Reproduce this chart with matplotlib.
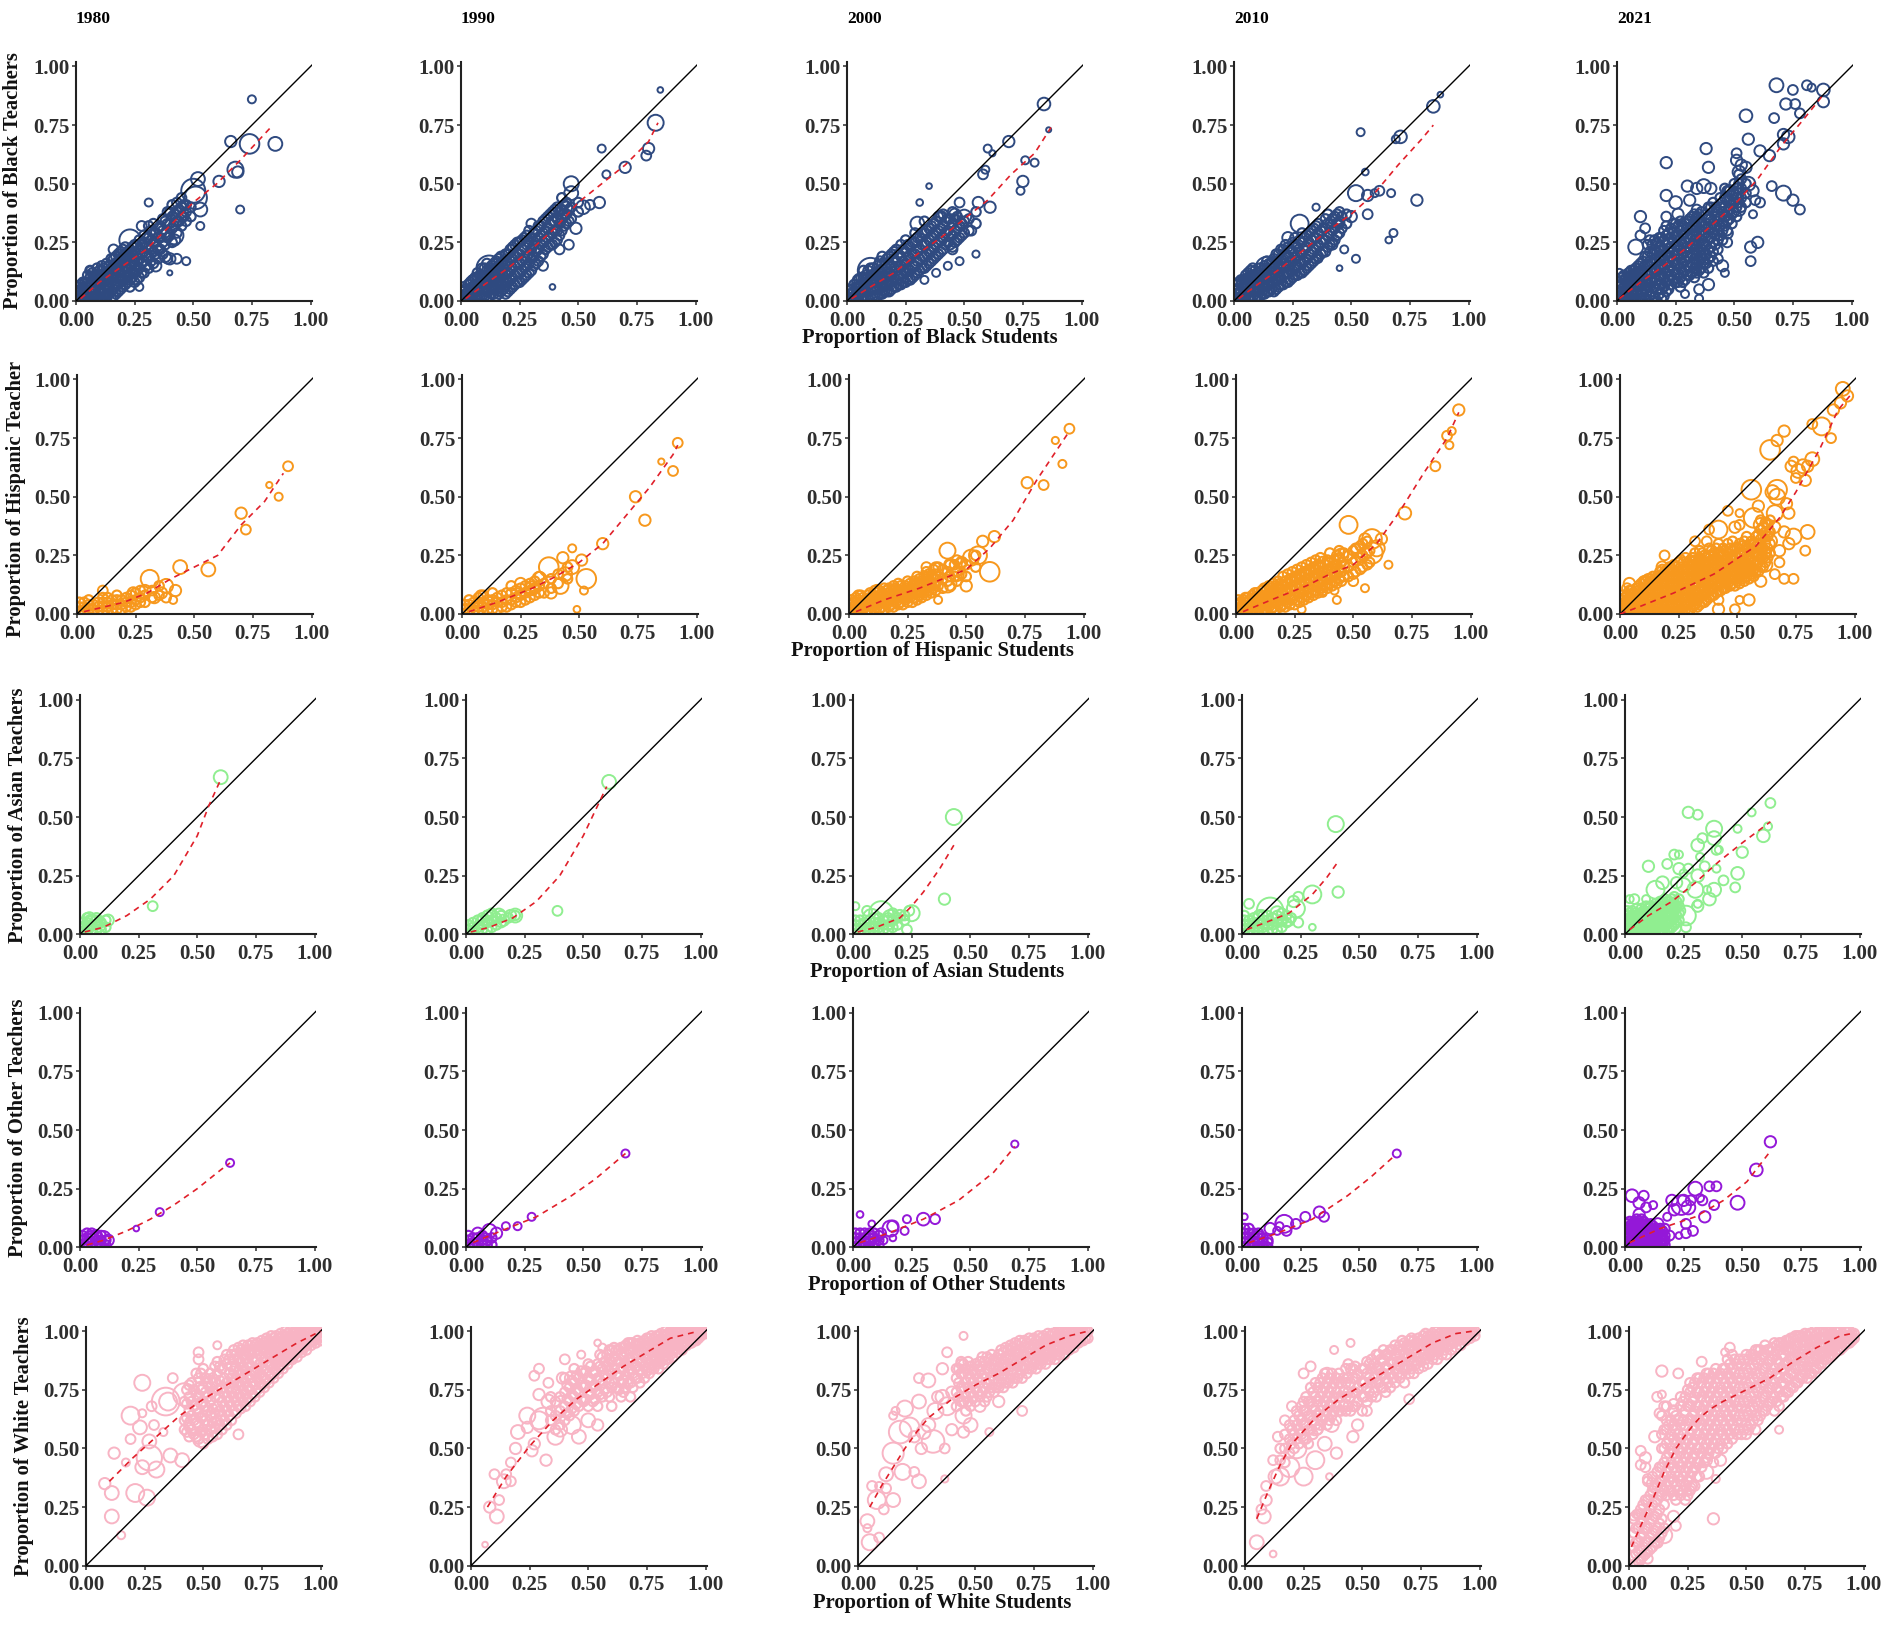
# -*- coding: utf-8 -*-
import numpy as np
from matplotlib import pyplot as plt

# all values, in percent. points are (x, y, enrolment weight),
# bands and fills are {x: [y, y, ...]} for the solid parts of each panel, fits are (x, y)
years = ['1980', '1990', '2000', '2010', '2021']
y_titles = ['Proportion of Black Teachers', 'Proportion of Hispanic Teacher', 'Proportion of Asian Teachers',
            'Proportion of Other Teachers', 'Proportion of White Teachers']
x_titles = ['Proportion of Black Students', 'Proportion of Hispanic Students', 'Proportion of Asian Students',
            'Proportion of Other Students', 'Proportion of White Students']
colors = ['#2f4a80', '#f7981d', '#90ee90', '#9418d8', '#f8b4c4']
ticks = [0, 0.25, 0.5, 0.75, 1.0]
tick_labels = ['0.00', '0.25', '0.50', '0.75', '1.00']

black_1980_pts = [(75,86,1),(66,68,2),(74,67,6),(85,67,3),(68,56,4),(69,55,2),(61,51,2),(70,39,1),(52,52,3),(50,47,9),(51,44,8),(31,42,1),(53,32,1),(53,39,3),(42,28,5),(42,26,2),(40,12,.4),(47,17,1),(43,18,1.5),(40,18,2),(34,15,2),(27,6,1),(23,26,7),(16,22,1.5),(28,32,1.5),(38,19,2),(6,13,1)]
black_1980_band = {1:[0,1,2,4,6],3:[0,2,4,6,8],5:[0,1,3,6,8,11],7:[0,2,5,9,12],9:[0,2,6,8,11,14],11:[0,1,4,7,10,13,15],13:[0,3,6,9,12,16],15:[1,4,8,11,14,18],17:[3,7,10,13,16,19],19:[5,9,12,15,18,21],21:[7,10,14,17,20,23],23:[6,9,12,16,19,22],25:[8,12,15,18,21,24],27:[10,14,18,22,26],29:[12,17,21,25,28],31:[14,19,23,27,32],33:[16,21,25,29,33],35:[18,22,27,31],37:[20,25,30,35],39:[18,27,33,38],41:[25,31,36,41],43:[29,34,38,42],45:[32,36,40,44],47:[34,38,41],49:[36,40]}
black_1980_fill = {2:[1,3,5,7],4:[1,3,5,8],6:[1,4,7,10,13],8:[2,5,8,11],10:[1,4,7,10,13],12:[2,5,8,11,14],14:[3,6,9,12,15],16:[2,5,9,12,15,18],18:[4,7,10,14,17,20],20:[6,9,13,16,19,22],22:[8,11,14,18,21],24:[10,13,17,20,23],26:[9,13,17,20,24],28:[12,16,20,24],30:[15,19,23,27],32:[17,22,26,30],34:[20,25,29],36:[22,27,32],38:[24,29,34],40:[28,33,38],42:[32,37],44:[34,39],46:[36,41]}
black_1980_fit = [(2,1),(10,8),(20,15),(30,22),(40,32),(50,42),(60,50),(70,60),(83,74)]

black_1990_pts = [(85,90,.5),(83,76,4),(80,65,2),(79,62,1.5),(70,57,2),(60,65,1),(62,54,1),(59,42,2),(52,40,3),(47,50,3.5),(47,46,3),(45,40,2),(39,6,.5),(12,14,10),(6,7,6),(49,31,2),(42,22,1.5),(46,24,1.5),(35,15,1.5),(30,33,1.5),(55,41,1.5),(22,19,2)]
black_1990_band = {1:[0,1,2,4,6],3:[0,2,4,7],5:[0,3,6,9],7:[1,4,7,10,12],9:[2,5,8,11,14],11:[1,4,7,10,13,16],13:[3,6,9,12,15],15:[2,5,8,11,14,17],17:[4,7,10,13,16,19],19:[3,6,9,12,15,20],21:[5,9,13,17,22],23:[7,11,15,19,24],25:[8,12,16,20,25],27:[10,14,18,23,27],29:[12,16,20,25,30],31:[15,19,24,29],33:[17,22,27,32],35:[20,25,29,34],37:[23,27,31,36],39:[24,29,34,38],41:[26,30,35,40],43:[30,35,39,44],45:[33,37,42],47:[35,40],50:[38,42]}
black_1990_fill = {2:[1,3,5],4:[1,3,5,8],6:[1,4,7,10],8:[2,5,8,11],10:[2,5,8,11,14],12:[2,5,8,11,14],14:[3,6,9,12,16],16:[3,6,9,12,15,18],18:[5,8,11,14,17],20:[4,8,12,16,20],22:[6,10,14,18,23],24:[8,12,16,20,25],26:[9,13,17,22,26],28:[11,15,19,24,28],30:[13,18,22,27],32:[16,21,26,30],34:[19,24,28,32],36:[22,26,30,35],38:[24,28,33,37],40:[25,30,34,39],42:[28,33,38],44:[32,37,41],46:[34,39]}
black_1990_fit = [(2,1),(10,7),(20,14),(30,22),(40,31),(50,42),(60,50),(70,58),(80,68),(84,76)]

black_2000_pts = [(86,73,.4),(84,84,2.5),(69,68,2),(80,59,1),(76,60,1),(75,51,2),(74,47,1),(60,65,1),(62,63,.6),(59,56,1),(58,54,1.5),(56,42,2),(61,40,2),(50,36,3),(35,49,.5),(31,42,.7),(30,33,3),(10,13,10),(46,37,2),(55,20,.8),(48,17,1),(43,15,1),(48,42,1.5),(53,30,1.5),(40,36,2),(33,9,1),(45,22,1.5),(6,8,5),(38,12,1)]
black_2000_band = {1:[0,1,3,5],3:[0,2,4,7],5:[0,3,6,9],7:[1,4,7,10,13],9:[1,4,7,10,13],11:[2,5,8,11,14],13:[2,5,8,11,15],15:[3,6,9,12,16,19],17:[4,7,10,14,18],19:[5,8,11,15,20],21:[6,9,13,17,22],23:[7,11,15,19,24],25:[8,12,16,21,26],27:[9,13,18,23],29:[11,15,20,25,29],31:[13,18,22,27],33:[14,19,24,29,34],35:[16,21,26,31],37:[18,23,28,33],39:[20,25,30,36],41:[22,27,32,37],43:[25,30,35],45:[23,28,33,38],47:[26,31,36],49:[28,33],52:[30,35],55:[33,38]}
black_2000_fill = {2:[1,3,5],4:[1,3,6],6:[1,4,7,10],8:[2,5,8,11],10:[2,5,8,11,14],12:[2,5,9,12],14:[3,6,10,13,17],16:[4,7,11,15],18:[4,8,12,16,19],20:[6,10,14,18,21],22:[7,11,15,20],24:[8,13,17,22],26:[9,14,19,24],28:[10,15,20,25],30:[12,17,22,27],32:[14,19,24,29],34:[15,20,25,30],36:[17,22,27,32],38:[19,24,29,34],40:[21,26,31,36],42:[24,29,34],44:[24,29,35],46:[25,30,35],48:[27,32],50:[29,34]}
black_2000_fit = [(2,1),(10,6),(20,12),(30,20),(40,27),(50,35),(60,43),(70,54),(80,63),(87,74)]

black_2010_pts = [(88,88,.5),(85,83,2.5),(71,70,2.5),(69,69,1),(54,72,1),(78,43,2),(60,46,1),(56,55,.7),(52,46,4),(57,45,2),(67,46,1),(68,29,1),(66,26,.7),(57,37,1.5),(50,36,2),(35,40,.8),(28,33,5),(52,18,1),(36,18,1),(45,14,.5),(14,14,8),(62,47,1.5),(45,33,1.5),(42,24,1.5),(47,22,1),(8,9,4),(23,27,2)]
black_2010_band = {1:[0,1,3,5,7],3:[0,2,4,7,9],5:[0,3,6,9,11],7:[1,4,7,10,13],9:[1,4,7,10,13],11:[2,5,8,11,14],13:[3,6,9,12,15],15:[4,7,10,13,16],17:[4,8,11,14,18],19:[6,9,12,16,20],21:[7,11,14,18,22],23:[8,12,15,19,23],25:[10,13,17,21,25],27:[11,15,19,23],29:[12,16,20,25,29],31:[14,18,23,28],33:[16,21,26,30],35:[18,23,27,32],37:[20,25,30],39:[21,26,31,35],41:[24,29,33],43:[26,31,36],45:[29,34,38],48:[33,37]}
black_2010_fill = {2:[1,3,5,8],4:[1,3,6,9],6:[1,4,7,10,12],8:[2,5,8,11,14],10:[2,5,8,12],12:[3,6,9,13],14:[4,7,10,14,17],16:[5,8,12,16],18:[5,9,13,17,20],20:[7,10,14,18,22],22:[8,12,16,20,24],24:[9,13,17,22],26:[11,15,19,24,27],28:[12,17,21,26],30:[13,17,22,27],32:[15,20,25,29],34:[17,22,27,31],36:[19,24,29,33],38:[21,26,31],40:[23,28,33,37],42:[25,30,35],44:[28,33,37],46:[31,36]}
black_2010_fit = [(2,1),(10,7),(20,14),(30,22),(40,30),(50,37),(60,46),(70,58),(80,69),(85,75)]

black_2021_pts = [(68,92,3),(75,90,1.5),(81,92,1.5),(83,91,1),(88,90,2.5),(72,84,2),(76,84,1.5),(88,85,2),(78,80,1.5),(55,79,2.5),(67,78,1.5),(56,69,2),(38,65,2),(21,59,2),(39,57,2),(51,63,1.5),(61,64,2),(65,62,2),(71,71,2),(73,70,2.5),(71,67,2),(30,49,2),(34,48,2),(37,49,3),(40,48,2),(21,45,2),(25,42,2.5),(31,43,2),(66,49,1.5),(71,46,3.5),(75,43,2),(78,39,1.5),(58,37,1),(61,42,1.5),(10,36,2),(12,31,1.5),(10,28,1.5),(8,23,3.5),(60,25,2),(57,23,2),(57,17,1.5),(46,12,1),(45,15,2),(39,7,2),(35,5,1.5),(29,3,1),(35,1,1),(1,12,1),(51,60,2),(53,58,2),(52,55,2.5),(55,57,2),(56,50,3),(58,47,2),(59,43,1.5),(48,47,2),(52,39,2.5),(47,29,2),(47,25,1.5),(43,18,1.5),(21,36,1.5),(26,37,2),(33,37,1.5),(34,39,1.5)]
black_2021_band = {1:[0,2,4,6,8],3:[0,2,4,6,9,11],5:[0,2,5,7,10,12],7:[0,3,5,8,11,13],9:[0,3,6,9,12,15],11:[0,3,7,10,13,17],13:[0,4,7,11,15,19,24],15:[0,4,8,12,16,20,24],17:[0,5,9,13,17,21,25],19:[1,5,10,14,18,22,27],21:[4,8,12,16,20,24,28,32],23:[7,11,15,19,23,27,31],25:[8,12,16,20,24,28,33],27:[6,10,14,18,22,26,30,34],29:[9,13,17,21,25,29,33],31:[11,15,19,23,27,31,35],33:[10,14,18,22,26,30,34],35:[13,17,21,25,29,33,37],37:[12,16,20,24,28,32],39:[14,18,22,27,31,35,40],41:[17,21,25,29,33,38,42],43:[22,26,30,34,38],45:[26,30,34,38,42],47:[30,34,38,43,47],49:[33,37,41,45],51:[36,40,44,48],53:[40,44,48,52],55:[42,46,50]}
black_2021_fill = {2:[1,3,5,7,10],4:[1,3,5,8,10],6:[1,4,6,9,11,13],8:[1,4,7,10,12,14],10:[1,4,7,10,13,16],12:[1,5,8,12,15,19],14:[2,6,9,13,17,21,26],16:[2,6,10,14,18,22,26],18:[3,7,11,15,19,23,27],20:[2,6,10,14,18,22,26,30],22:[5,9,13,17,21,25,29],24:[9,13,17,21,25,29,33],26:[8,12,16,20,24,28,32],28:[8,12,16,20,24,28,32],30:[11,15,19,23,27,31,34],32:[12,16,20,24,28,32,36],34:[12,16,20,24,28,32,36],36:[14,18,22,26,30,34,38],38:[16,20,24,29,33,37],40:[19,23,27,31,35,40],42:[24,28,32,36,40],44:[28,32,36,40,44],46:[32,36,40,44,48],48:[35,39,43,47],50:[38,42,46,50],52:[42,46,50,54]}
black_2021_fit = [(1,1),(10,8),(20,15),(30,23),(40,32),(50,41),(60,52),(70,66),(80,78),(88,88)]

hispanic_1980_pts = [(90,63,1.5),(82,55,.6),(86,50,1),(70,43,2),(72,36,1.5),(56,19,3),(44,20,3),(31,15,5),(38,12,3),(42,10,2),(36,9,2),(33,7,2),(11,10,1.5),(41,6,1),(29,10,2),(24,9,2),(38,7,1.5)]
hispanic_1980_band = {1:[0,1,3,5],3:[0,1,3,5],5:[0,2,4,6],7:[0,2,4],9:[1,3,5],11:[1,3,5,7],13:[1,3,5,7],15:[2,4,6],17:[2,4,6,8],19:[2,4,6],21:[3,5,7],23:[3,5,8],25:[4,6,9],27:[5,7,10],29:[5,8],32:[7,10],35:[8,12]}
hispanic_1980_fit = [(3,1),(20,5),(30,9),(40,15),(50,20),(60,25),(70,38),(80,48),(88,60)]

hispanic_1990_pts = [(92,73,1.5),(90,61,1.5),(85,65,.6),(74,50,2),(78,40,2),(60,30,2),(51,23,2),(47,28,1),(53,15,6),(37,20,6),(44,17,3),(49,2,.7),(42,12,4),(47,20,3),(33,15,3),(30,11,3),(25,13,2),(38,9,2),(43,24,2),(52,10,1),(8,8,1.5)]
hispanic_1990_band = {1:[0,2,4],3:[0,2,4,6],5:[1,3,5],7:[1,3,5,7],9:[1,3,5,8],11:[2,4,6],13:[2,4,6,9],15:[2,5,7],17:[3,5,8],19:[3,6,9],21:[4,6,9,12],23:[5,7,10],25:[5,8,11],27:[6,9,12],29:[7,10,13],31:[8,11,14],33:[9,12,16],35:[9,13],38:[11,15],41:[13,17],45:[15,20]}
hispanic_1990_fit = [(3,1),(15,5),(30,11),(40,16),(50,22),(60,30),(70,42),(80,54),(90,68),(92,72)]

hispanic_2000_pts = [(94,79,1.5),(88,74,.8),(91,64,1),(76,56,2),(83,55,1.5),(62,33,2),(42,27,4),(52,24,4),(60,18,6),(55,25,5),(57,31,2),(48,22,2),(36,14,4),(42,13,5),(50,12,2),(30,11,3),(24,9,3),(46,17,3),(33,20,1.5),(4,8,1.5),(12,10,2),(43,21,2),(38,6,1)]
hispanic_2000_band = {1:[0,2,4,6],3:[0,2,5,7],5:[1,3,5,8],7:[1,3,6],9:[1,4,6,9],11:[2,4,7,10],13:[2,5,8,10],15:[2,5,8,11],17:[3,6,9,11],19:[3,6,9,12],21:[4,7,10,13],23:[4,7,10],25:[5,8,11,14],27:[5,9,12],29:[6,9,13,16],31:[7,10,14],33:[8,11,15,18],35:[9,12,16],37:[10,13,17,20],40:[11,15,19],43:[12,16,21],46:[14,18,23],50:[16,21],54:[20,25]}
hispanic_2000_fill = {2:[1,3,5],4:[1,3,6],6:[2,4,7],8:[2,5,8],10:[3,5,8],12:[3,6,9],14:[3,6,9],16:[4,7,10],18:[4,7,10],20:[5,8,11],22:[5,8,12],24:[6,9,12],26:[7,10,13],28:[7,11,14],30:[8,12,15],32:[9,13,16],34:[10,14,17],36:[11,15,19],38:[12,16,20],42:[14,18],45:[16,21],48:[17,22]}
hispanic_2000_fit = [(3,1),(15,6),(30,11),(40,15),(50,19),(60,28),(70,40),(80,57),(90,72),(94,78)]

hispanic_2010_pts = [(95,87,2),(92,78,1),(90,76,1.5),(85,63,1.5),(91,72,1),(72,43,2.5),(48,38,5),(58,32,6),(58,26,7),(60,28,4),(52,27,3),(46,20,2),(55,11,1),(65,21,1),(42,10,1),(37,22,2),(30,17,2.5),(45,25,3),(50,14,1.5),(37,9,1),(28,2,1),(43,6,1),(62,32,2),(55,32,2),(10,6,2)]
hispanic_2010_band = {1:[0,2,4,6],3:[0,2,4,6],5:[0,2,5,7],7:[1,3,6,8],9:[1,3,6,9],11:[1,4,7,10],13:[2,4,7,10],15:[2,5,8,11],17:[2,5,8,12],19:[3,6,9,13],21:[3,6,10,14],23:[4,7,11,15],25:[4,8,12,16],27:[5,9,13,17],29:[6,10,14,18],31:[7,11,15,19],33:[8,12,16,20],35:[9,13,17,21],37:[10,14,18],39:[11,15,19,23],41:[12,16,20],43:[13,17,21,25],45:[14,18,22],48:[16,20,25],51:[18,23,28],54:[20,25,30],57:[22,27]}
hispanic_2010_fill = {2:[1,3,5],4:[1,3,5,7],6:[1,3,6],8:[1,4,7,9],10:[2,5,8],12:[2,5,8,11],14:[3,6,9,12],16:[3,6,10,13],18:[4,7,11,14],20:[4,8,12,16],22:[5,9,13,17],24:[6,10,14,18],26:[6,11,15,19],28:[7,12,16,20],30:[8,13,17,21],32:[9,14,18,22],34:[10,15,19,23],36:[11,15,20,24],38:[12,16,21],40:[13,17,22,26],42:[14,18,23],44:[15,19,24,27],46:[16,21,26],50:[17,22,27],53:[19,24,29],56:[21,26,31]}
hispanic_2010_fit = [(3,1),(15,6),(30,12),(40,17),(50,21),(60,30),(70,44),(80,60),(90,75),(95,86)]

hispanic_2021_pts = [(95,96,3),(97,93,2),(94,90,2),(91,87,2),(86,80,5),(82,81,1.5),(90,75,1.5),(70,78,2),(67,74,2),(64,70,6),(82,66,3),(74,65,1.5),(73,63,2),(78,63,3),(76,61,3),(80,63,2),(75,58,1.5),(79,57,2),(56,53,6),(67,53,6),(65,52,3),(67,50,4),(71,47,2),(46,44,1.5),(51,43,1),(57,41,6),(59,46,2),(66,43,4),(72,43,2),(42,36,5),(49,37,2),(51,38,1.5),(80,35,3),(74,33,4),(38,36,1.5),(32,31,1.5),(37,31,1.5),(79,27,1.5),(19,25,1.5),(18,20,2),(4,13,2),(3,11,1.5),(11,14,2),(74,15,1.5),(70,15,1.5),(66,17,1.5),(60,14,2),(55,6,2),(51,6,1),(49,2,1.5),(42,2,2),(42,6,1.5),(68,22,1.5),(62,21,3),(72,30,2),(68,27,2),(64,31,3),(60,38,3),(63,35,2),(66,37,2),(70,35,2),(62,26,2),(58,29,3)]
hispanic_2021_band = {1:[0,2,4,6,8],3:[0,2,4,6,8],5:[0,2,5,7,10],7:[1,3,5,8,11],9:[0,3,6,9,13],11:[0,2,4,7,10,14],13:[0,2,4,7,10,13,15],15:[0,3,6,9,12,15],17:[0,3,6,9,12,15,18],19:[0,3,6,9,12,15,18],21:[0,3,6,9,12,15,18,20],23:[0,3,6,9,12,15,18,21],25:[0,3,6,9,12,15,18,22],27:[0,3,7,10,13,16,19,22],29:[1,4,7,10,13,16,19,22],31:[3,6,9,12,15,18,21,24],33:[3,6,9,13,16,19,22],35:[5,8,11,14,17,20,23,26],37:[6,9,12,15,18,21,24],39:[8,11,14,17,20,23,27],41:[9,12,15,18,21,24,28],43:[10,13,16,19,22,26],45:[11,14,17,20,23,27],47:[12,15,18,21,24,28],49:[12,15,18,21,25,28],51:[13,16,19,22,26,30],53:[14,17,20,23,27,31],55:[15,18,21,24,28],57:[16,19,22,26,30],59:[18,22,26,30,34],61:[20,24,28,33,37],63:[24,28,33,38]}
hispanic_2021_fill = {2:[1,3,5,7],4:[1,3,5,7,10],6:[1,3,6,9],8:[2,4,7,10,12],10:[1,3,5,8,11,14],12:[1,3,6,9,12,15],14:[1,4,7,10,13,16],16:[1,4,7,10,13,16],18:[1,4,7,10,13,16,19],20:[1,4,7,10,13,16,19],22:[1,4,7,10,13,16,19],24:[1,4,7,10,13,16,20],26:[2,5,8,11,14,17,20,23],28:[2,5,8,11,14,17,20,24],30:[2,5,8,11,14,17,20,23],32:[4,7,10,14,17,20,23,26],34:[4,7,10,15,18,21,24,27],36:[5,10,13,16,19,22,25],38:[7,10,13,16,19,22,25,28],40:[8,11,14,17,20,23,26],42:[10,14,17,20,23,26,30],44:[11,15,18,21,25,28],46:[13,16,19,22,26,30],48:[13,17,20,23,27,31],50:[14,17,20,24,28],52:[15,18,21,25,29],54:[16,19,22,25,29,33],56:[17,20,23,27,31],58:[18,21,25,29,33],60:[20,24,28,32,36,40],62:[22,26,30,35,39],64:[26,30,35,40]}
hispanic_2021_fit = [(0,0),(8,3),(23,9),(40,17),(58,29),(68,41),(75,52),(85,70),(93,87),(98,93)]

asian_1980_pts = [(60,67,3),(31,12,1.5),(5,5,4),(4,7,2),(8,4,3),(12,6,2),(3,3,3),(7,7,1.5)]
asian_1980_band = {1:[1,3,5],3:[1,3,5,7],5:[2,4,6],7:[1,4,6],9:[2,5],11:[3,6]}
asian_1980_fit = [(2,1),(10,3),(20,8),(30,15),(40,25),(50,42),(55,55),(60,66)]

asian_1990_pts = [(61,65,3),(39,10,1.5),(10,7,4),(14,8,3),(21,8,3),(7,5,3),(16,6,2),(19,8,2)]
asian_1990_band = {1:[0,2,4],3:[1,3,5],5:[1,3,6],7:[2,4,7],9:[2,5,8],11:[3,6,9],13:[4,7],15:[5,8],18:[7],21:[8]}
asian_1990_fit = [(2,1),(10,3),(20,7),(30,14),(40,25),(50,42),(60,63)]

asian_2000_pts = [(43,50,4),(39,15,2),(12,9,9),(8,7,5),(16,7,4),(1,12,1),(25,9,4),(24,10,1.5),(20,8,2),(23,2,1.5),(15,5,3),(6,10,1.5)]
asian_2000_band = {1:[0,2,4,6],3:[0,2,4,6],5:[1,3,5],7:[1,3,6],9:[1,3,5,7],11:[1,3,5,7],13:[2,4,6],15:[2,4,7],17:[3,6,9],19:[4,7],22:[6,8]}
asian_2000_fit = [(2,1),(10,3),(20,7),(25,12),(30,18),(37,28),(43,38)]

asian_2010_pts = [(40,47,4),(41,18,2),(30,17,5),(12,10,11),(8,7,4),(3,13,1.5),(22,14,2),(24,16,1.5),(23,11,5),(24,5,1.5),(30,3,.7),(20,6,2),(15,9,3),(17,6,2)]
asian_2010_band = {1:[0,2,4,6,8],3:[0,2,4,6],5:[1,3,5,7],7:[1,3,5,8],9:[1,3,6,8],11:[1,4,6,8],13:[2,4,7],15:[2,5,8],17:[3,6,9],19:[5,8],21:[7]}
asian_2010_fit = [(2,2),(10,5),(20,9),(30,17),(36,24),(41,31)]

asian_2021_pts = [(27,52,2),(31,51,1.5),(62,56,1.5),(54,52,1),(48,45,1),(61,46,1),(59,42,2.5),(38,45,4),(38,41,3),(33,41,1.5),(31,38,2.5),(39,36,1.5),(40,36,1),(50,35,2),(21,34,1.5),(23,34,1),(32,33,1),(18,30,1.5),(10,29,2),(23,28,2),(27,28,1.5),(25,26,1),(34,29,1.5),(39,28,1),(31,25,2.5),(48,26,2.5),(42,23,1.5),(47,20,1.5),(38,19,3),(35,19,1),(36,15,2.5),(30,19,4),(25,21,3),(22,22,2),(16,22,2.5),(13,19,5),(2,15,1),(4,15,1.5),(9,15,1),(26,8,6),(21,3,3),(26,3,1.5),(31,12,2),(31,13,1),(20,12,3),(23,10,2.5),(18,7,3)]
asian_2021_band = {1:[0,2,4,6,8,10],3:[0,2,4,6,8,10],5:[0,2,4,6,8,11],7:[0,2,4,6,9,11],9:[0,3,5,7,9,12],11:[0,2,5,7,10,12],13:[0,2,5,8,10,13],15:[0,2,5,8,11,14],17:[1,3,6,9,12,15],19:[2,5,8,11,14],21:[4,7,10,13,16],23:[6,9,12,15]}
asian_2021_fill = {2:[1,3,5,7,9],4:[1,3,5,7,9],6:[1,3,5,7,9],8:[1,3,5,8,10],10:[1,3,6,8,11],12:[1,3,6,9,11],14:[1,4,6,9,12],16:[1,4,7,10,13],18:[2,5,8,11,14],20:[3,6,9,12,15],22:[5,8,11,14]}
asian_2021_fit = [(2,2),(10,8),(20,14),(30,22),(40,31),(50,39),(62,48)]

other_1980_pts = [(64,36,1),(34,15,1),(24,8,.5),(10,4,3),(7,5,2),(12,3,2),(5,4,3)]
other_1980_band = {1:[0,1,3,5],3:[0,2,4,6],5:[0,2,4,6],7:[1,3,5],9:[1,3,5],11:[1,3]}
other_1980_fit = [(3,1),(10,3),(20,7),(30,12),(40,18),(50,25),(60,33),(64,36)]

other_1990_pts = [(68,40,1),(28,13,1),(22,9,1),(17,9,1),(10,7,3),(5,6,2),(13,6,2),(8,3,3)]
other_1990_band = {1:[0,1,3,5],3:[0,2,4],5:[0,2,4],7:[1,3,5],9:[1,3],11:[1,4]}
other_1990_fit = [(3,2),(15,7),(30,13),(45,22),(55,29),(68,40)]

other_2000_pts = [(69,44,.8),(30,12,2.5),(35,12,1.5),(23,12,1),(22,7,1),(17,9,2),(16,8,4),(13,3,1),(3,14,.7),(8,10,.7),(17,4,.7),(12,6,1.5),(7,4,3)]
other_2000_band = {1:[0,2,4,6],3:[0,2,4,6],5:[0,2,4,6],7:[0,2,4,6],9:[0,2,4,6],11:[1,3,5]}
other_2000_fit = [(3,2),(15,6),(30,12),(45,20),(60,32),(69,43)]

other_2010_pts = [(66,40,1),(33,15,2),(35,13,1.5),(27,13,1.5),(23,10,1.5),(18,10,5),(16,9,1),(15,7,1),(19,7,1.5),(12,8,2),(1,13,.7),(11,3,1.5),(7,4,3)]
other_2010_band = {1:[0,2,4,6,8],3:[0,2,4,6,8],5:[0,2,4,6],7:[0,2,4,6],9:[0,2,4],11:[0,2]}
other_2010_fit = [(3,2),(15,6),(30,12),(45,22),(55,30),(65,39)]

other_2021_pts = [(62,45,2),(56,33,2.5),(48,19,3),(38,18,1.5),(34,13,2),(36,26,1.5),(39,26,1.5),(30,25,3),(25,20,2),(33,20,1.5),(28,20,1.5),(24,18,6),(27,17,3),(32,21,1),(20,20,2),(21,16,2),(3,22,2.5),(8,22,1.5),(6,19,2),(12,18,1),(9,17,1.5),(6,14,2),(18,13,1),(26,10,1.5),(29,7,1.5),(26,6,1.5),(23,5,.7),(19,5,1.5),(14,10,2)]
other_2021_band = {1:[0,2,4,6,8,10],3:[0,2,4,6,8,10],5:[0,2,4,6,8,10,12],7:[0,2,4,6,8,10,12],9:[0,2,4,6,8,10],11:[0,2,4,6,8,10],13:[0,2,4,6,8],15:[0,2,4,6,8],17:[1,3,5,8]}
other_2021_fill = {2:[1,3,5,7,9,11],4:[1,3,5,7,9,11],6:[1,3,5,7,9,11],8:[1,3,5,7,9,11],10:[1,3,5,7,9],12:[1,3,5,7,9],14:[1,3,5,7],16:[1,3,5,7]}
other_2021_fit = [(2,2),(15,8),(30,13),(42,20),(52,28),(62,41)]

white_1980_pts = [(24,78,4),(19,64,5),(24,65,1),(23,59,3),(29,60,1.5),(19,54,1.5),(27,53,3),(12,48,2),(17,44,1),(27,46,10),(24,42,3),(30,41,4),(36,47,3),(41,45,3),(8,35,2),(11,31,3),(11,21,3),(21,31,5),(26,29,4),(15,13,1),(33,57,1),(34,70,12),(35,70,5),(42,73,8),(37,80,1.5),(28,68,1.5),(48,91,1.5),(48,88,1.5),(56,94,1),(65,56,1.5),(46,60,6),(49,54,4),(50,75,5),(53,78,3),(52,63,4)]
white_1980_band = {42:[62,58,70],44:[55,60,66,72,77],46:[56,62,68,75],48:[54,60,65,72,80],50:[52,58,64,70,76,84],52:[54,60,66,72,78],54:[55,61,67,74,80],56:[56,62,68,75,82,87],58:[58,64,70,76,84],60:[60,66,72,78,86,90],62:[62,68,74,80,85,90],64:[65,70,75,80,85,90],66:[67,72,77,82,87,92],68:[68,73,78,83,88,92],70:[70,75,80,85,90,94],72:[72,77,82,87,91,94],74:[74,78,82,86,90,94],76:[76,80,84,88,92,95],78:[78,82,86,90,93,96],80:[80,84,88,91,94,97],82:[82,85,88,91,94,97],84:[84,87,90,93,96,98],86:[86,89,92,95,97,99],88:[88,90,93,95,97,99],90:[89,91,94,96,98,100],92:[91,93,95,97,99,100],94:[92,95,97,99,100],96:[94,96,98,100],98:[95,97,99,100],100:[96,98,100]}
white_1980_fill = {43:[57,63,69,75],45:[58,64,70,78],47:[55,61,67,73,82],49:[57,63,69,75,82],51:[56,62,68,74,80],53:[58,64,70,76,82],55:[59,65,72,78,85],57:[60,66,72,79,85],59:[62,68,74,80,88],61:[64,70,76,82,88],63:[66,72,78,83,88,92],65:[68,73,78,83,88,93],67:[70,75,80,85,90,94],69:[71,76,81,86,91,94],71:[73,78,83,88,92,95],73:[75,80,84,88,92,95],75:[77,81,85,89,93,96],77:[79,83,87,91,94,97],79:[81,85,89,92,95,98],81:[83,86,89,92,95,98],83:[85,88,91,94,97,99],85:[87,90,93,96,98,100],87:[88,91,94,96,98,100],89:[90,92,95,97,99,100],91:[92,94,96,98,100],93:[93,96,98,100],95:[95,97,99,100],97:[96,98,100],99:[97,99,100]}
white_1980_fit = [(10,36),(20,46),(30,55),(40,64),(50,71),(60,77),(70,83),(80,89),(90,95),(100,100)]

white_1990_pts = [(6,9,.5),(8,25,2),(11,21,3),(12,28,1.5),(10,39,1.5),(15,39,1.5),(14,36,3),(17,36,1.5),(19,50,2),(20,57,3),(24,64,4),(27,52,2),(24,59,2),(31,62,10),(36,55,4),(29,73,2),(27,81,1.5),(29,84,1.5),(29,62,5),(39,68,7),(43,60,5),(46,55,3),(33,78,1.5),(39,80,2),(43,80,3),(26,49,2),(17,44,1.5),(32,45,2),(33,70,3),(38,58,3),(47,90,1),(56,93,1),(54,95,.7),(40,88,1.5),(50,62,3),(54,60,2)]
white_1990_band = {34:[62,66,72],36:[58,64,70],38:[60,66,72],40:[62,68,74,80],42:[64,70,76],44:[66,72,78,84],46:[68,74,80],48:[70,76,82],50:[68,74,80,86],52:[70,76,82],54:[68,74,80,86],56:[72,78,84,89],58:[74,80,85,90],60:[68,76,82,87,92],62:[76,82,88,92],64:[72,78,84,90,93],66:[76,81,86,91,94],68:[72,78,84,88,92,95],70:[80,85,90,94],72:[78,83,87,91,95],74:[80,85,89,93,96],76:[82,86,90,94,97],78:[84,88,91,94,97],80:[84,87,90,93,96,98],82:[86,89,92,95,98],84:[88,91,94,97,99],86:[89,92,95,98,100],88:[91,94,97,100],90:[92,95,98,100],92:[94,97,99,100],94:[95,98,100],96:[96,98,100],98:[98,100],100:[99,100]}
white_1990_fill = {41:[65,71,77],43:[67,73,79],45:[69,75,81],47:[71,77,83],49:[71,77,83],51:[73,79,85],53:[71,77,83],55:[73,79,85,90],57:[75,81,87],59:[72,78,83,88,92],61:[78,84,89,93],63:[75,81,87,92],65:[74,79,84,89,93],67:[78,83,88,92,95],69:[76,82,87,92,95],71:[80,85,90,94,96],73:[82,87,91,95],75:[83,88,92,95,97],77:[84,88,92,95,98],79:[86,89,92,95,98],81:[87,90,93,96,99],83:[88,92,95,98,100],85:[90,93,96,99,100],87:[92,95,98,100],89:[93,96,99,100],91:[94,97,100],93:[96,98,100],95:[96,99,100],97:[97,100],99:[99,100]}
white_1990_fit = [(7,25),(15,38),(25,51),(35,62),(45,71),(55,78),(65,85),(75,91),(85,97),(97,100)]

white_2000_pts = [(45,98,1),(38,91,1.5),(36,84,2),(26,80,1.5),(30,79,3),(20,67,4),(15,64,1),(16,66,1),(26,70,3),(18,57,8),(22,59,6),(15,48,7),(19,40,4),(12,39,3),(24,40,1.5),(26,36,3),(6,34,1.5),(9,34,1),(12,33,1.5),(8,28,5),(15,28,3),(11,24,1.5),(4,19,3),(4,16,1),(5,10,4),(9,12,1.5),(32,53,8),(27,50,2),(45,57,2),(37,50,1.5),(70,66,1.5),(56,57,1),(37,37,.8),(33,66,4),(38,68,5),(45,64,4),(48,60,3),(30,60,3),(40,58,2),(36,72,3),(24,55,2),(28,57,3),(34,72,2),(40,74,2),(44,82,1.5),(44,86,1.5),(52,68,2),(60,70,2)]
white_2000_band = {42:[68,74,80,84],44:[70,76,82,87],46:[66,72,78,84],48:[68,74,80,85],50:[70,76,82,86],52:[72,78,83,87],54:[70,76,82,87],56:[74,79,84,88],58:[74,79,84,88],60:[76,81,85,90],62:[76,81,86,91],64:[78,83,88,92],66:[78,83,88,93],68:[80,85,90,94],70:[80,85,90,95],72:[82,87,91,95],74:[84,88,92,96],76:[84,88,92,96],78:[86,90,94,97],80:[86,90,94,97],82:[88,91,94,98],84:[88,92,96,99],86:[90,93,96,100],88:[90,93,96,100],90:[92,95,98,100],92:[93,96,99,100],94:[95,98,100],96:[96,99,100],98:[97,100]}
white_2000_fill = {43:[72,78,84],45:[70,76,82,86],47:[70,76,82,87],49:[72,78,83],51:[74,80,85],53:[74,80,85,89],55:[72,78,84,89],57:[76,81,86,90],59:[76,82,87],61:[78,83,88,92],63:[78,84,89,93],65:[80,85,90,94],67:[80,86,91,95],69:[82,87,92,96],71:[84,89,93,96],73:[84,89,93,97],75:[86,90,94,97],77:[86,90,94,98],79:[88,92,95,98],81:[88,92,96,99],83:[90,93,96,99],85:[90,94,97,100],87:[92,95,98,100],89:[93,96,99,100],91:[94,97,100],93:[95,98,100],95:[96,99,100],97:[97,100]}
white_2000_fit = [(5,25),(10,34),(15,42),(20,50),(25,57),(30,63),(40,71),(50,77),(60,82),(70,88),(80,94),(90,98),(98,100)]

white_2010_pts = [(5,10,3),(8,21,3),(7,24,1.5),(9,34,1.5),(9,28,2),(13,38,3),(12,45,1.5),(15,38,5),(19,42,6),(25,38,5),(30,45,5),(22,50,6),(30,59,4),(34,52,3),(39,48,2),(37,60,3),(46,55,2),(48,60,2),(14,55,1.5),(20,68,1.5),(17,62,1.5),(25,82,1.5),(28,85,1.5),(35,82,2),(38,92,1),(45,95,1),(36,38,.7),(12,5,.7),(52,66,1.5),(70,71,1.5)]
white_2010_band = {15:[45,50],17:[44,50,56],19:[48,54,60],21:[50,56,62],23:[52,58,64],25:[54,60,66,70],27:[52,58,64,70],29:[56,62,68,74],31:[58,64,70,76],33:[62,68,74,80],35:[60,66,72,78],37:[64,70,76,82],39:[62,68,74,80],41:[66,72,78],43:[66,72,78,84],45:[66,72,78,84],47:[68,74,80,85],50:[66,72,78,84],52:[70,76,82,87],54:[72,78,84,88],56:[72,78,84,90],58:[76,82,88],60:[74,80,85,90],62:[76,82,87,92],64:[78,84,90,94],66:[80,85,90,94],68:[78,84,90,95],70:[82,87,92,96],72:[82,87,92,96],74:[84,89,94,97],76:[85,90,94,98],78:[86,90,94,98],80:[88,92,96,99],82:[88,92,96,100],84:[90,94,98,100],86:[90,94,98,100],88:[92,96,100],90:[93,97,100],92:[94,98,100],94:[96,99,100],96:[97,100],98:[98,100]}
white_2010_fill = {20:[52,58],22:[54,60,66],24:[56,62,68],26:[54,60,66,72],28:[58,64,70,76],30:[60,66,72,78],32:[60,66,72,78],34:[64,70,76,82],36:[62,68,74,80],38:[66,72,78],40:[66,72,78,82],42:[68,74,80],44:[68,74,80,86],46:[68,74,80,84],48:[70,76,82],51:[72,78,84],53:[74,80,86],55:[74,80,86],57:[78,84,90],59:[76,82,88,92],61:[78,84,90],63:[80,86,92],65:[82,87,92],67:[82,87,92,96],69:[84,89,94],71:[84,89,94,97],73:[86,91,95],75:[87,92,96],77:[88,92,96,99],79:[90,94,98],81:[90,94,98,100],83:[92,96,99],85:[92,96,100],87:[94,98,100],89:[95,98,100],91:[96,99,100],93:[97,100],95:[98,100],97:[99,100]}
white_2010_fit = [(5,20),(10,32),(15,43),(20,52),(30,63),(40,71),(50,77),(60,83),(70,89),(80,95),(90,99),(97,100)]

white_2021_pts = [(36,20,2),(64,58,1),(14,83,2),(21,82,1.5),(31,87,1.5),(43,93,1.5),(41,91,1),(12,72,1.5),(14,73,1),(15,68,1.5),(19,69,1.5),(19,66,2),(13,65,1.5),(11,55,2),(5,49,1.5),(7,46,2),(5,43,1.5),(7,42,1.5),(8,37,1.5),(10,35,2),(3,22,1),(2,21,1),(15,13,4),(12,10,2),(8,3,1.5),(5,2,1),(33,45,2),(39,45,2),(33,40,3),(37,37,1),(26,33,2),(19,21,2),(20,17,1.5)]
white_2021_band = {2:[0,4,8,14,20],4:[2,6,10,16,22],6:[4,8,14,20,26],8:[6,10,16,22,28,36],10:[8,14,20,26,32,38],12:[10,16,22,28,34,40],14:[14,20,30,36,42,50,56,64],16:[30,34,40,46,52,58,62,68],18:[32,38,44,50,56,62],20:[28,34,40,46,52,58,64],22:[30,36,42,48,54,60,68,72],24:[28,34,40,46,52,60,66,72],26:[32,38,44,50,56,62,68,74,78],28:[34,42,48,54,60,66,72,78],30:[38,44,50,56,62,68,74,80],32:[44,50,56,62,68,74,80],34:[48,54,60,66,72,78,82],36:[44,52,58,64,70,76,82],38:[50,56,62,68,74,80],40:[50,56,62,68,74,80,84],42:[52,58,64,70,76,82,88],44:[54,60,66,72,78,84,90],46:[56,62,68,74,80,86],48:[56,62,68,74,80,86],50:[56,60,66,72,78,84,90],52:[60,66,72,78,84,90],54:[58,64,70,76,82,88,92],56:[64,70,76,82,88,92],58:[66,72,78,84,90,94],60:[70,76,82,88,92],62:[66,72,78,84,90,95],64:[68,74,80,86,92,95],66:[72,78,84,90,94],68:[74,80,86,92,96],70:[76,82,88,92,97],72:[78,84,89,94,98],74:[80,85,90,95,98],76:[80,85,90,95,98],78:[82,87,92,96,99],80:[84,88,92,96,99],82:[86,90,94,97,100],84:[88,91,94,97,100],86:[89,92,95,98,100],88:[91,94,97,100],90:[92,95,98,100],92:[94,97,100],94:[95,98,100],96:[97,99]}
white_2021_fill = {3:[1,5,10,16],5:[3,7,12,18,24],7:[5,10,16,22,28],9:[7,12,18,24,30],11:[10,15,21,27,33],13:[12,18,24,30,36,42],15:[16,26,32,38,44,50,58],17:[32,36,42,48,54,60],19:[30,36,42,48,54,60,66],21:[32,38,44,50,56,62],23:[32,38,44,50,56,62,70],25:[30,36,42,48,54,62,68,75],27:[34,40,46,52,58,64,70,76],29:[38,44,50,56,62,68,74,80],31:[42,48,54,60,66,72,78],33:[46,52,58,64,70,76,82],35:[50,56,62,68,74,80],37:[48,54,60,66,72,78,84],39:[52,58,64,70,76,82],41:[54,60,66,72,78,84],43:[56,62,68,74,80,86],45:[58,64,70,76,82,88],47:[58,64,70,76,82,88],49:[58,64,70,76,82,88],51:[58,64,70,76,82,88],53:[62,68,74,80,86,90],55:[62,68,74,80,86,92],57:[66,72,78,84,90],59:[68,74,80,86,92],61:[70,76,82,88,93],63:[70,76,82,88,94],65:[72,78,84,90,95],67:[74,80,86,92,96],69:[76,82,88,93,97],71:[78,84,89,94,98],73:[80,85,90,95,98],75:[82,87,92,96,99],77:[82,87,92,96,99],79:[84,88,92,96,100],81:[86,90,94,97,100],83:[88,91,94,97,100],85:[89,92,95,98,100],87:[90,93,96,99],89:[92,95,98,100],91:[93,96,99],93:[95,98,100],95:[96,99]}
white_2021_fit = [(1,8),(5,17),(10,28),(15,40),(20,50),(25,57),(30,63),(35,67),(40,70),(50,75),(60,80),(70,87),(80,93),(90,98),(95,99)]

panels = [
    [(black_1980_pts, black_1980_band, black_1980_fit), (black_1990_pts, black_1990_band, black_1990_fit),
     (black_2000_pts, black_2000_band, black_2000_fit), (black_2010_pts, black_2010_band, black_2010_fit),
     (black_2021_pts, black_2021_band, black_2021_fit)],
    [(hispanic_1980_pts, hispanic_1980_band, hispanic_1980_fit), (hispanic_1990_pts, hispanic_1990_band, hispanic_1990_fit),
     (hispanic_2000_pts, hispanic_2000_band, hispanic_2000_fit), (hispanic_2010_pts, hispanic_2010_band, hispanic_2010_fit),
     (hispanic_2021_pts, hispanic_2021_band, hispanic_2021_fit)],
    [(asian_1980_pts, asian_1980_band, asian_1980_fit), (asian_1990_pts, asian_1990_band, asian_1990_fit),
     (asian_2000_pts, asian_2000_band, asian_2000_fit), (asian_2010_pts, asian_2010_band, asian_2010_fit),
     (asian_2021_pts, asian_2021_band, asian_2021_fit)],
    [(other_1980_pts, other_1980_band, other_1980_fit), (other_1990_pts, other_1990_band, other_1990_fit),
     (other_2000_pts, other_2000_band, other_2000_fit), (other_2010_pts, other_2010_band, other_2010_fit),
     (other_2021_pts, other_2021_band, other_2021_fit)],
    [(white_1980_pts, white_1980_band, white_1980_fit), (white_1990_pts, white_1990_band, white_1990_fit),
     (white_2000_pts, white_2000_band, white_2000_fit), (white_2010_pts, white_2010_band, white_2010_fit),
     (white_2021_pts, white_2021_band, white_2021_fit)],
]
fills = {(0, 0): black_1980_fill, (0, 1): black_1990_fill, (0, 2): black_2000_fill, (0, 3): black_2010_fill,
         (0, 4): black_2021_fill, (1, 2): hispanic_2000_fill, (1, 3): hispanic_2010_fill, (1, 4): hispanic_2021_fill,
         (2, 4): asian_2021_fill, (3, 4): other_2021_fill, (4, 0): white_1980_fill, (4, 1): white_1990_fill,
         (4, 2): white_2000_fill, (4, 3): white_2010_fill, (4, 4): white_2021_fill}

# layout in pixels of the 1893x1629 figure
W, H = 1893, 1629
UNIT = 234.5
left_px = [[76, 461, 847, 1234, 1617], [77, 462, 849, 1236, 1620], [80, 466, 853, 1242, 1625],
           [80, 466, 853, 1242, 1625], [86, 471, 858, 1245, 1629]]
base_px = [301, 614, 934.3, 1247.3, 1565.7]
ylabel_pos = [(13, 181), (16, 499), (18, 815), (18, 1128), (24, 1446)]
xlabel_pos = [(930, 338), (932, 651), (937, 972), (937, 1285), (942, 1603)]

plt.rcParams['font.family'] = ['Liberation Serif', 'DejaVu Serif']
plt.rcParams['font.weight'] = 'bold'

fig = plt.figure(figsize=(W / 100, H / 100), dpi=100)
BASE_AREA = (8 * 0.72) ** 2   # marker area of weight 1, about 8 px across
TEXT = '#2e2e2e'

for r in range(5):
    for c in range(5):
        pts, band, fit = panels[r][c]
        band = {**band, **fills.get((r, c), {})}
        ax = fig.add_axes([left_px[r][c] / W, 1 - base_px[r] / H, UNIT * 1.008 / W, UNIT * 1.02 / H])

        xs = [k for k, v in band.items() for _ in v]
        ys = [y for v in band.values() for y in v]
        ax.scatter(np.array(xs) / 100, np.array(ys) / 100, s=BASE_AREA * 1.4, facecolors='none',
                   edgecolors=colors[r], linewidths=1.55, zorder=2)
        p = np.array(pts, dtype=float)
        ax.scatter(p[:, 0] / 100, p[:, 1] / 100, s=BASE_AREA * p[:, 2], facecolors='none',
                   edgecolors=colors[r], linewidths=1.4, zorder=2)

        ax.axline((0, 0), slope=1, color='black', lw=1.0, zorder=3)
        f = np.array(fit, dtype=float) / 100
        ax.plot(f[:, 0], f[:, 1], color='#e0202a', lw=1.2, ls=(0, (3.5, 3)), zorder=4)

        ax.set_xlim(0, 1.008)
        ax.set_ylim(0, 1.02)
        ax.set_xticks(ticks)
        ax.set_yticks(ticks)
        ax.set_xticklabels(tick_labels)
        ax.set_yticklabels(tick_labels)
        ax.tick_params(length=3, width=1.1, labelsize=15, colors=TEXT)
        ax.tick_params(axis='x', pad=4)
        ax.tick_params(axis='y', pad=1.5)
        for side in ['top', 'right']:
            ax.spines[side].set_visible(False)
        for side in ['left', 'bottom']:
            ax.spines[side].set_linewidth(1.5)
            ax.spines[side].set_color('#222222')

        if r == 0:
            ax.set_title(years[c], loc='left', fontsize=12.5, fontweight='bold', pad=28, color='black')

for r in range(5):
    x, y = ylabel_pos[r]
    fig.text(x / W, 1 - y / H, y_titles[r], rotation=90, ha='center', va='center', fontsize=14.8, color='#111111')
    x, y = xlabel_pos[r]
    fig.text(x / W, 1 - y / H, x_titles[r], ha='center', va='center', fontsize=14.8, color='#111111')

fig.savefig('out.png', dpi=100)
